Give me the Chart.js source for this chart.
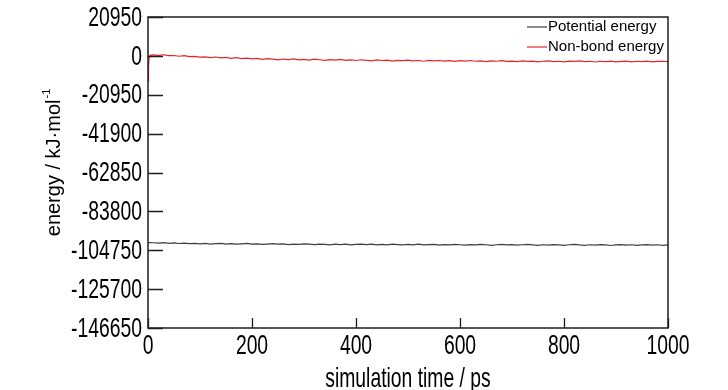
<!DOCTYPE html>
<html>
<head>
<meta charset="utf-8">
<script src="https://cdn.jsdelivr.net/npm/chart.js@4"></script>
<style>
  html, body { margin: 0; padding: 0; background: #fff; }
  #wrap { width: 728px; height: 390px; }
</style>
</head>
<body>
<div id="wrap"><canvas id="energy-chart" width="728" height="390"></canvas></div>
<script>
// time (ps)
const timePs = [0, 1, 2, 4,
  10, 20, 30, 40, 50, 60, 70, 80, 90, 100,
  110, 120, 130, 140, 150, 160, 170, 180, 190, 200,
  210, 220, 230, 240, 250, 260, 270, 280, 290, 300,
  310, 320, 330, 340, 350, 360, 370, 380, 390, 400,
  410, 420, 430, 440, 450, 460, 470, 480, 490, 500,
  510, 520, 530, 540, 550, 560, 570, 580, 590, 600,
  610, 620, 630, 640, 650, 660, 670, 680, 690, 700,
  710, 720, 730, 740, 750, 760, 770, 780, 790, 800,
  810, 820, 830, 840, 850, 860, 870, 880, 890, 900,
  910, 920, 930, 940, 950, 960, 970, 980, 990, 1000];

// Potential energy (kJ/mol)
const potentialEnergy = [-100500, -100600, -100700, -100600,
  -100700, -100900, -100600, -101000, -100800, -101100, -100900, -101200, -101000, -101300,
  -101100, -101400, -101200, -101000, -101400, -101200, -101500, -101300, -101100, -101400,
  -101300, -101600, -101400, -101200, -101500, -101300, -101700, -101400, -101600, -101300,
  -101500, -101700, -101400, -101600, -101800, -101500, -101700, -101400, -101800, -101600,
  -101400, -101700, -101500, -101900, -101600, -101800, -101500, -101700, -101900, -101600,
  -101800, -101500, -101900, -101700, -101600, -102000, -101700, -101900, -101600, -101800,
  -102000, -101700, -101900, -101600, -101800, -102100, -101800, -101600, -101900, -101700,
  -102000, -101800, -101600, -101900, -102100, -101800, -102000, -101700, -101900, -102100,
  -101800, -101600, -101900, -102100, -101800, -102000, -101700, -101900, -102200, -101900,
  -101700, -102000, -101800, -102100, -101900, -101700, -102000, -101800, -102100, -101900];

// Non-bond energy (kJ/mol)
const nonBondEnergy = [-13500, -6000, -1500, 300,
  500, 300, 600, 100, 200, -200, 100, -400, -300, -700,
  -500, -900, -600, -1100, -800, -1300, -1000, -1500, -1200, -1600,
  -1400, -1900, -1500, -1800, -2100, -1700, -2000, -1600, -2200, -1900,
  -2300, -1800, -2100, -2400, -2000, -2300, -1900, -2400, -2200, -2500,
  -2100, -2400, -2700, -2200, -2500, -2300, -2800, -2400, -2600, -2300,
  -2700, -2500, -2900, -2400, -2700, -2500, -2800, -2600, -3000, -2600,
  -2800, -2500, -2900, -2700, -3100, -2700, -2900, -2600, -3000, -2800,
  -3100, -2700, -3000, -2800, -3200, -2900, -2700, -3100, -2900, -3200,
  -2800, -3000, -2700, -3100, -2900, -3300, -2900, -3100, -2800, -3200,
  -3000, -2800, -3200, -2900, -3100, -2800, -3200, -3000, -2900, -3100];

const seriesNames = ['Potential energy', 'Non-bond energy'];
const seriesColors = ['#404040', '#e3262d'];

// y ticks: 20950 .. -146650
const yMin = -146650, yMax = 20950, yStep = 20950;
const xMin = 0, xMax = 1000, xStep = 200;

const xTitle = 'simulation time / ps';
const yTitle = 'energy / kJ·mol';
const yTitleSup = '-1';

const FONT = '"Liberation Sans", Arial, sans-serif';
const SQUEEZE = 0.69; // the tick text in the original is narrow

function toPoints(values) {
  return values.map((v, i) => ({ x: timePs[i], y: v }));
}

function narrowText(ctx, text, x, y, align) {
  ctx.save();
  ctx.translate(x, y);
  ctx.scale(SQUEEZE, 1);
  ctx.textAlign = align;
  ctx.fillText(text, 0, 0);
  ctx.restore();
}

// box, inward ticks, labels, titles, legend
const framePlugin = {
  id: 'frame',
  afterDraw(chart) {
    const ctx = chart.ctx;
    const a = chart.chartArea;
    const xs = chart.scales.x, ys = chart.scales.y;
    ctx.save();
    ctx.strokeStyle = '#1e1e1e';
    ctx.lineWidth = 1.5;
    ctx.strokeRect(a.left, a.top, a.right - a.left, a.bottom - a.top);

    ctx.lineWidth = 1.3;
    ctx.beginPath();
    ys.ticks.forEach(t => {
      const y = Math.round(ys.getPixelForValue(t.value)) + 0.5;
      ctx.moveTo(a.left, y);
      ctx.lineTo(a.left + 15, y);
    });
    xs.ticks.forEach(t => {
      const x = Math.round(xs.getPixelForValue(t.value)) + 0.5;
      ctx.moveTo(x, a.bottom);
      ctx.lineTo(x, a.bottom - 10);
    });
    ctx.stroke();

    // tick labels
    ctx.fillStyle = '#000';
    ctx.font = '28px ' + FONT;
    ctx.textBaseline = 'middle';
    ys.ticks.forEach(t => {
      narrowText(ctx, String(t.value), a.left - 6, ys.getPixelForValue(t.value) + 1, 'right');
    });
    xs.ticks.forEach(t => {
      narrowText(ctx, String(t.value), xs.getPixelForValue(t.value), a.bottom + 18, 'center');
    });

    // x axis title
    narrowText(ctx, xTitle, (a.left + a.right) / 2, 379, 'center');

    // y axis title, rotated, with superscript
    ctx.save();
    ctx.translate(53, 163);
    ctx.rotate(-Math.PI / 2);
    ctx.font = '20px ' + FONT;
    const w1 = ctx.measureText(yTitle).width;
    ctx.font = '11px ' + FONT;
    const w2 = ctx.measureText(yTitleSup).width;
    const x0 = -(w1 + w2) / 2;
    ctx.textAlign = 'left';
    ctx.textBaseline = 'alphabetic';
    ctx.font = '20px ' + FONT;
    ctx.fillText(yTitle, x0, 7);
    ctx.font = '11px ' + FONT;
    ctx.fillText(yTitleSup, x0 + w1 + 1, -3);
    ctx.restore();

    // legend
    ctx.font = '15px ' + FONT;
    ctx.textBaseline = 'middle';
    ctx.textAlign = 'left';
    chart.data.datasets.forEach((ds, i) => {
      const y = a.top + 10 + i * 20;
      const lx = a.right - 141;
      ctx.strokeStyle = ds.borderColor;
      ctx.lineWidth = 1.2;
      ctx.beginPath();
      ctx.moveTo(lx, y);
      ctx.lineTo(lx + 20, y);
      ctx.stroke();
      ctx.fillStyle = '#000';
      ctx.fillText(ds.label, lx + 21, y);
    });
    ctx.restore();
  }
};

const ctx = document.getElementById('energy-chart').getContext('2d');
new Chart(ctx, {
  type: 'line',
  data: {
    datasets: [
      { label: seriesNames[0], data: toPoints(potentialEnergy), borderColor: seriesColors[0], borderWidth: 1.2, pointRadius: 0, tension: 0 },
      { label: seriesNames[1], data: toPoints(nonBondEnergy), borderColor: seriesColors[1], borderWidth: 1.2, pointRadius: 0, tension: 0 }
    ]
  },
  options: {
    responsive: false,
    animation: false,
    layout: { padding: { left: 0, right: 60, top: 17, bottom: 0 } },
    plugins: {
      legend: { display: false },
      tooltip: { enabled: false }
    },
    scales: {
      x: {
        type: 'linear',
        min: xMin, max: xMax,
        grid: { display: false, drawTicks: false },
        border: { display: false },
        ticks: { stepSize: xStep, display: false },
        afterFit(scale) { scale.height = 62; }
      },
      y: {
        min: yMin, max: yMax,
        grid: { display: false, drawTicks: false },
        border: { display: false },
        ticks: { stepSize: yStep, display: false },
        afterFit(scale) { scale.width = 148; }
      }
    }
  },
  plugins: [framePlugin]
});
</script>
</body>
</html>
